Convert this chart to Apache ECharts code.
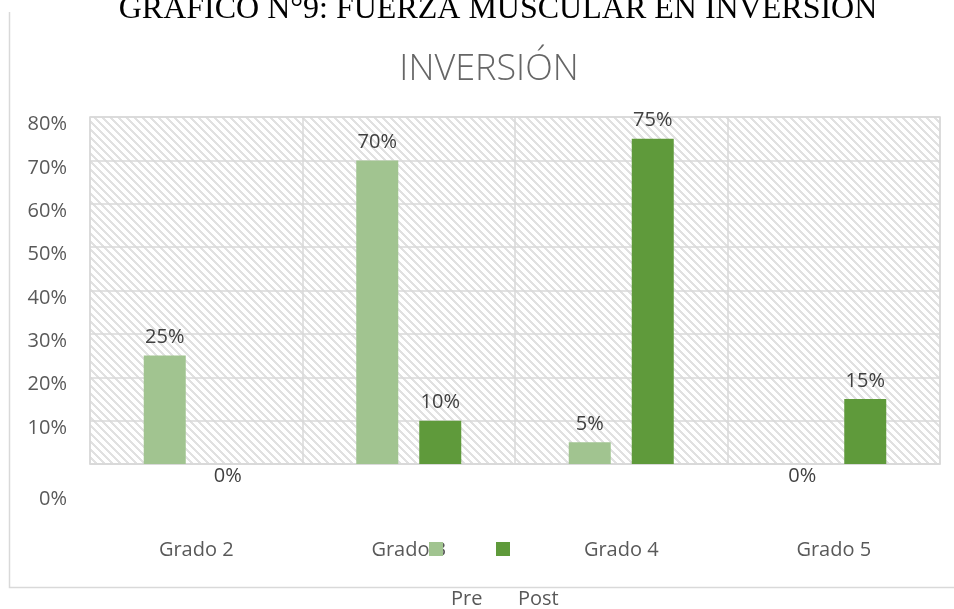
<!DOCTYPE html>
<html>
<head>
<meta charset="utf-8">
<script src="https://cdn.jsdelivr.net/npm/echarts@6/dist/echarts.min.js"></script>
<style>
html,body{margin:0;padding:0;background:#fff;}
#chart{width:954px;height:609px;}
</style>
</head>
<body>
<div id="chart"></div>
<script>
const categories = ['Grado 2', 'Grado 3', 'Grado 4', 'Grado 5'];
const preValues = [25, 70, 5, 0];
const postValues = [0, 10, 75, 15];
const seriesNames = ['Pre', 'Post'];
const yMin = 0, yMax = 80, yStep = 10;

const FONT = 'Open Sans';
const TXT = '#595959';

// hatch pattern tile (wide downward diagonal)
const tile = document.createElement('canvas');
tile.width = 8; tile.height = 8;
const tctx = tile.getContext('2d');
tctx.fillStyle = '#ffffff';
tctx.fillRect(0, 0, 8, 8);
tctx.fillStyle = '#e1e1e1';
for (let y = 0; y < 8; y++) {
  for (let x = 0; x < 8; x++) {
    const d = ((x - y) % 8 + 8) % 8;
    if (d < 3) tctx.fillRect(x, y, 1, 1);
  }
}

function toItems(arr) {
  return arr.map(v => v === 0
    ? { value: v, label: { position: 'bottom', distance: 2 } }
    : { value: v });
}

const chart = echarts.init(document.getElementById('chart'), null, { renderer: 'canvas' });
const labelStyle = {
  show: true, position: 'top', distance: 8,
  formatter: '{c}%', fontFamily: FONT, fontSize: 20, color: '#404040'
};
const legendText = { rich: { t: { padding: [100, 0, 0, 3], fontFamily: FONT, fontSize: 20, color: TXT } } };
chart.setOption({
  backgroundColor: '#ffffff',
  animation: false,
  title: [
    {
      text: 'GRAFICO N°9: FUERZA MUSCULAR EN INVERSION',
      left: 498, top: -6, padding: 0, textAlign: 'center',
      textStyle: { fontFamily: 'Liberation Serif', fontSize: 32, fontWeight: 'normal', color: '#000000' }
    },
    {
      text: 'INVERSIÓN',
      left: 489, top: 52, padding: 0, textAlign: 'center',
      textStyle: { fontFamily: FONT, fontSize: 36, fontWeight: 300, color: '#666666' }
    }
  ],
  graphic: [{
    type: 'polyline',
    shape: { points: [[9.5, 12], [9.5, 587.5], [960, 587.5]] },
    style: { stroke: '#d9d9d9', lineWidth: 1.5, fill: null },
    silent: true
  }],
  legend: [
    {
      data: [seriesNames[0]], left: 429, top: 542, padding: 0,
      itemWidth: 14, itemHeight: 14, icon: 'rect',
      formatter: '{t|{name}}', textStyle: legendText
    },
    {
      data: [seriesNames[1]], left: 496, top: 542, padding: 0,
      itemWidth: 14, itemHeight: 14, icon: 'rect',
      formatter: '{t|{name}}', textStyle: legendText
    }
  ],
  grid: {
    left: 90, right: 14, top: 117, bottom: 145,
    show: true, borderColor: '#d9d9d9', borderWidth: 1.5,
    backgroundColor: { image: tile, repeat: 'repeat' }
  },
  xAxis: {
    type: 'category', data: categories,
    axisLine: { show: true, lineStyle: { color: '#d9d9d9', width: 1.5 } },
    axisTick: { show: false },
    splitLine: { show: true, lineStyle: { color: '#d9d9d9', width: 1.5 } },
    axisLabel: { margin: 76, fontFamily: FONT, fontSize: 20, color: TXT }
  },
  yAxis: {
    type: 'value', min: yMin, max: yMax, interval: yStep,
    axisLine: { show: false }, axisTick: { show: false },
    splitLine: { lineStyle: { color: '#d9d9d9', width: 1.5 } },
    axisLabel: {
      margin: 23, fontFamily: FONT, fontSize: 20, color: TXT,
      formatter: v => v === 0 ? '{z|0%}' : '{n|' + v + '%}',
      rich: {
        n: { padding: [15, 0, 0, 0], fontFamily: FONT, fontSize: 20, color: TXT },
        z: { padding: [70, 0, 0, 0], fontFamily: FONT, fontSize: 20, color: TXT }
      }
    }
  },
  series: [
    {
      name: seriesNames[0], type: 'bar', data: toItems(preValues),
      barWidth: 42, barGap: '50%',
      itemStyle: { color: '#a1c490' }, label: labelStyle
    },
    {
      name: seriesNames[1], type: 'bar', data: toItems(postValues),
      barWidth: 42, barGap: '50%',
      itemStyle: { color: '#5f9a3b' }, label: labelStyle
    }
  ]
});
</script>
</body>
</html>
